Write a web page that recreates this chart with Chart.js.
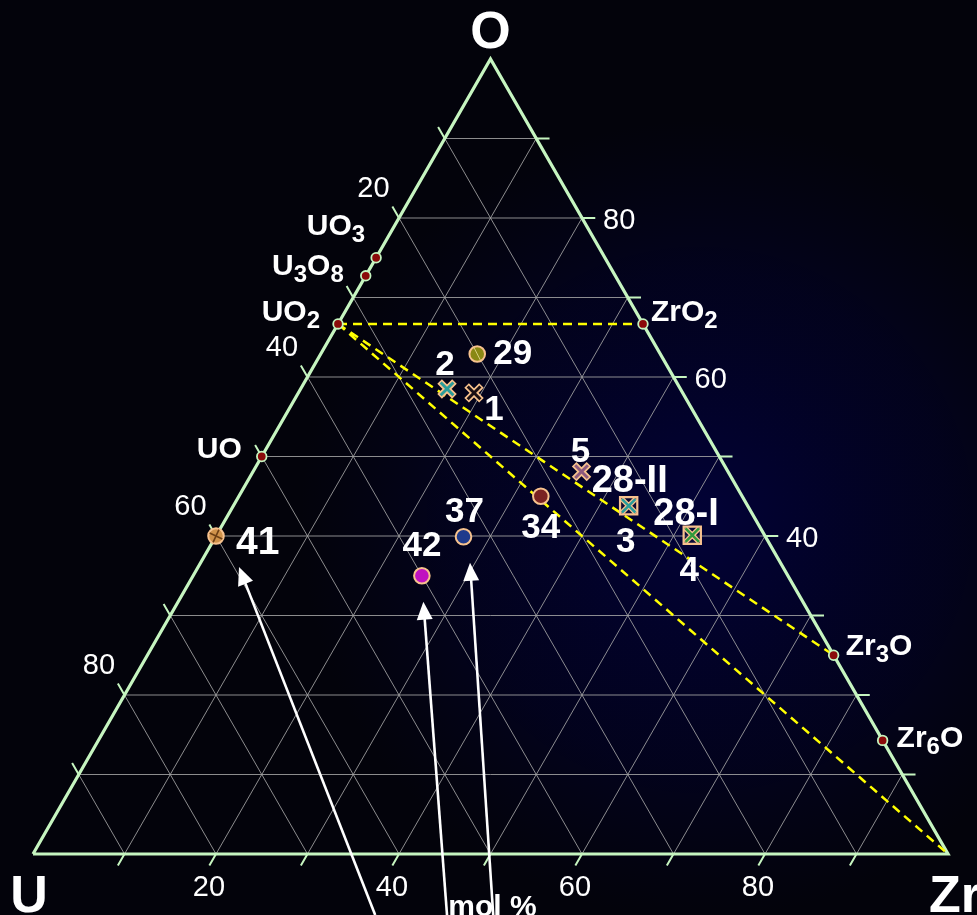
<!DOCTYPE html>
<html><head><meta charset="utf-8">
<script src="https://cdn.jsdelivr.net/npm/chart.js@4.4.0/dist/chart.umd.min.js"></script>
<style>html,body{margin:0;padding:0;background:#03030b;overflow:hidden}
#wrap{position:relative;width:977px;height:915px}
canvas{display:block}</style></head>
<body><div id="wrap"><canvas id="c" width="977" height="915"></canvas></div>
<script>
// ---------------- data (mol %) ----------------
const gridSteps = [10, 20, 30, 40, 50, 60, 70, 80, 90];
const bottomTickLabels = [20, 40, 60, 80];   // Zr
const leftTickLabels = [20, 40, 60, 80];     // U
const rightTickLabels = [40, 60, 80];        // O
const compoundNames = ['UO3', 'U3O8', 'UO2', 'UO', 'ZrO2', 'Zr3O', 'Zr6O'];
const compoundO  = [75, 72.73, 66.67, 50, 66.67, 25, 14.29];
const compoundZr = [0, 0, 0, 0, 33.33, 75, 85.71];
const tieFrom = ['UO2', 'UO2', 'UO2'];
const tieTo   = ['ZrO2', 'Zr3O', 'Zr'];
const sampleNames = ['29', '2', '1', '5', '28-II', '28-I', '34', '37', '42', '41'];
const sampleO  = [62.9, 58.5, 58.0, 48.1, 43.8, 40.1, 45.0, 39.9, 35.0, 40.0];
const sampleZr = [17.1, 16.0, 19.2, 35.9, 43.2, 52.0, 33.0, 27.1, 25.0, 0.0];
const arrowTargets = ['41', '42', '37'];

// ---------------- layout / style ----------------
const GREEN = '#c6f5c0', PEACH = '#f7c28e', YELLOW = '#ffff00', GRID = 'rgba(165,165,165,0.85)';
const FONT = '"Liberation Sans", Arial, sans-serif';
const SQ = Math.sqrt(3) / 2;
const X = (o, zr) => zr + o / 2;
const Y = (o) => o * SQ;
const TL = 1.45; // tick length, data units

const sampleStyle = {
  '29':   {shape: 'circle', fill: '#8a8814', hatch: 'line'},
  '2':    {shape: 'x', fill: '#2a9d9a'},
  '1':    {shape: 'x', fill: '#1a0f14'},
  '5':    {shape: 'x', fill: '#8e5a7e'},
  '28-II':{shape: 'boxx', fill: '#2a9d9a'},
  '28-I': {shape: 'boxx', fill: '#2f9a3c'},
  '34':   {shape: 'circle', fill: '#7a2222'},
  '37':   {shape: 'circle', fill: '#1e3a8c'},
  '42':   {shape: 'circle', fill: '#c012c0'},
  '41':   {shape: 'circle', fill: '#d0924a', hatch: 'cross'}
};
const sampleLabels = [ // text, anchor sample, pixel offset of ink centre / left edge
  {t: '29', s: '29', dx: 16, dy: -2, align: 'left', size: 35},
  {t: '2', s: '2', dx: -2, dy: -26, size: 35},
  {t: '1', s: '1', dx: 20, dy: 15, size: 35},
  {t: '5', s: '5', dx: -1, dy: -22, size: 35},
  {t: '28-II', s: '28-II', dx: -37, dy: -27, align: 'left', size: 38},
  {t: '28-I', s: '28-I', dx: -39, dy: -24, align: 'left', size: 38},
  {t: '3', s: '28-II', dx: -3, dy: 33.5, size: 35},
  {t: '4', s: '28-I', dx: -3, dy: 33, size: 35},
  {t: '34', s: '34', dx: 0, dy: 29, size: 35},
  {t: '37', s: '37', dx: 1, dy: -27, size: 35},
  {t: '42', s: '42', dx: 0, dy: -32, size: 35},
  {t: '41', s: '41', dx: 20, dy: 4, align: 'left', size: 39}
];
const compoundLabel = {
  'UO3':  {parts: [['U',0],['O',0],['3',1]], dx: -11, dy: -33, align: 'right'},
  'U3O8': {parts: [['U',0],['3',1],['O',0],['8',1]], dx: -22, dy: -12, align: 'right'},
  'UO2':  {parts: [['U',0],['O',0],['2',1]], dx: -18, dy: -13.5, align: 'right'},
  'UO':   {parts: [['U',0],['O',0]], dx: -20, dy: -9, align: 'right'},
  'ZrO2': {parts: [['Zr',0],['O',0],['2',1]], dx: 8, dy: -13.5, align: 'left'},
  'Zr3O': {parts: [['Zr',0],['3',1],['O',0]], dx: 12, dy: -11, align: 'left'},
  'Zr6O': {parts: [['Zr',0],['6',1],['O',0]], dx: 14, dy: -4, align: 'left'}
};
const arrowLayout = { // tail in cartesian data units, tip as pixel offset from sample
  '41': {tailX: 37.4, tailY: -6.65, tipDx: 23, tipDy: 31},
  '42': {tailX: 45.25, tailY: -6.65, tipDx: 1.5, tipDy: 26},
  '37': {tailX: 50.3, tailY: -6.65, tipDx: 6.5, tipDy: 26}
};

// ---------------- build datasets ----------------
const gap = {x: NaN, y: NaN};
const gridPts = [];
gridSteps.forEach(v => {
  gridPts.push({x: X(v, 0), y: Y(v)}, {x: X(v, 100 - v), y: Y(v)}, gap);           // const O
  gridPts.push({x: X(0, v), y: 0}, {x: X(100 - v, v), y: Y(100 - v)}, gap);         // const Zr
  gridPts.push({x: X(100 - v, 0), y: Y(100 - v)}, {x: X(0, 100 - v), y: 0}, gap);   // const U
});
const tickPts = [];
gridSteps.forEach(v => {
  tickPts.push({x: X(0, v), y: 0}, {x: X(0, v) - 0.5 * TL, y: -SQ * TL}, gap);        // bottom (Zr)
  const lx = X(100 - v, 0), ly = Y(100 - v);
  tickPts.push({x: lx, y: ly}, {x: lx - 0.5 * TL, y: ly + SQ * TL}, gap);              // left (U)
  const rx = X(v, 100 - v), ry = Y(v);
  tickPts.push({x: rx, y: ry}, {x: rx + TL, y: ry}, gap);                              // right (O)
});

const cIdx = n => compoundNames.indexOf(n);
const ptOf = n => n === 'Zr' ? {x: 100, y: 0} : {x: X(compoundO[cIdx(n)], compoundZr[cIdx(n)]), y: Y(compoundO[cIdx(n)])};
const tiePts = [];
tieFrom.forEach((f, i) => { tiePts.push(ptOf(f), ptOf(tieTo[i]), gap); });

const lineDS = (data, color, width, extra) => Object.assign({
  type: 'scatter', data, showLine: true, borderColor: color, borderWidth: width,
  pointRadius: 0, spanGaps: false, clip: false, tension: 0
}, extra || {});

const datasets = [];
datasets.push(lineDS(gridPts, GRID, 1));
datasets.push(lineDS(tickPts, GREEN, 2));
datasets.push(lineDS([{x: 0, y: 0}, {x: 100, y: 0}, {x: 50, y: Y(100)}, {x: 0, y: 0}], GREEN, 3.2, {borderJoinStyle: 'miter'}));
datasets.push(lineDS(tiePts, YELLOW, 2.5, {borderDash: [9, 6]}));
datasets.push({
  type: 'scatter', clip: false,
  data: compoundNames.map((n, i) => ({x: X(compoundO[i], compoundZr[i]), y: Y(compoundO[i])})),
  pointRadius: 4.8, pointBackgroundColor: '#8b0a0a', pointBorderColor: GREEN, pointBorderWidth: 1.8
});
const samplePt = i => ({x: X(sampleO[i], sampleZr[i]), y: Y(sampleO[i])});
const ptDS = (pt, style, r, bg, bc, bw, rot) => ({
  type: 'scatter', clip: false, data: [pt], pointStyle: style, pointRadius: r,
  pointBackgroundColor: bg, pointBorderColor: bc, pointBorderWidth: bw, pointRotation: rot || 0
});
sampleNames.forEach((n, i) => {
  const st = sampleStyle[n], p = samplePt(i);
  if (st.shape === 'circle') {
    datasets.push(ptDS(p, 'circle', 7.8, st.fill, PEACH, 2));
    if (st.hatch === 'line') datasets.push(ptDS(p, 'line', 7, 'transparent', 'rgba(225,215,140,0.9)', 1, 63));
    if (st.hatch === 'cross') datasets.push(ptDS(p, 'cross', 7, 'transparent', '#6e3f14', 1.6, 25));
  } else if (st.shape === 'x') {
    datasets.push(ptDS(p, 'crossRot', 10.5, 'transparent', PEACH, 6.5));
    datasets.push(ptDS(p, 'crossRot', 9, 'transparent', st.fill, 3));
  } else {
    datasets.push(ptDS(p, 'rect', 12.2, 'rgba(20,20,60,0.6)', PEACH, 2.2));
    datasets.push(ptDS(p, 'crossRot', 10, 'transparent', PEACH, 5));
    datasets.push(ptDS(p, 'crossRot', 9.5, 'transparent', st.fill, 2.5));
  }
});
datasets.forEach((d, i) => { d.order = datasets.length - i; });

// ---------------- plugins ----------------
const bgPlugin = {
  id: 'bg',
  beforeDraw(chart) {
    const ctx = chart.ctx;
    ctx.save();
    ctx.fillStyle = '#03030b';
    ctx.fillRect(0, 0, chart.width, chart.height);
    const g = ctx.createRadialGradient(700, 520, 20, 700, 520, 400);
    g.addColorStop(0, 'rgba(0,0,120,0.38)');
    g.addColorStop(0.6, 'rgba(0,0,100,0.2)');
    g.addColorStop(1, 'rgba(0,0,80,0)');
    ctx.fillStyle = g;
    ctx.fillRect(0, 0, chart.width, chart.height);
    ctx.restore();
  }
};

function chem(ctx, parts, x, yMid, align, size) {
  const subSize = Math.round(size * 0.8);
  const cap = size * 0.716;
  const base = yMid + cap / 2;
  let w = 0;
  parts.forEach(([t, s]) => { ctx.font = 'bold ' + (s ? subSize : size) + 'px ' + FONT; w += ctx.measureText(t).width; });
  let cx = align === 'right' ? x - w : x;
  ctx.textAlign = 'left'; ctx.textBaseline = 'alphabetic';
  parts.forEach(([t, s]) => {
    ctx.font = 'bold ' + (s ? subSize : size) + 'px ' + FONT;
    ctx.fillText(t, cx, s ? base + 7 : base);
    cx += ctx.measureText(t).width;
  });
}

const textPlugin = {
  id: 'texts',
  afterDatasetsDraw(chart) {
    const ctx = chart.ctx, sx = chart.scales.x, sy = chart.scales.y;
    const px = p => ({x: sx.getPixelForValue(p.x), y: sy.getPixelForValue(p.y)});
    ctx.save();
    // arrows
    ctx.strokeStyle = '#ffffff'; ctx.fillStyle = '#ffffff'; ctx.lineWidth = 2.6;
    arrowTargets.forEach(n => {
      const a = arrowLayout[n];
      const sp = px(samplePt(sampleNames.indexOf(n)));
      const tip = {x: sp.x + a.tipDx, y: sp.y + a.tipDy};
      const tail = px({x: a.tailX, y: a.tailY});
      const dx = tip.x - tail.x, dy = tip.y - tail.y, L = Math.hypot(dx, dy);
      const ux = dx / L, uy = dy / L, hl = 18, hw = 8;
      const bx = tip.x - ux * hl, by = tip.y - uy * hl;
      ctx.beginPath(); ctx.moveTo(tail.x, tail.y); ctx.lineTo(bx + ux * 2, by + uy * 2); ctx.stroke();
      ctx.beginPath(); ctx.moveTo(tip.x, tip.y);
      ctx.lineTo(bx - uy * hw, by + ux * hw); ctx.lineTo(bx + uy * hw, by - ux * hw); ctx.closePath(); ctx.fill();
    });
    // tick labels
    ctx.fillStyle = '#ffffff';
    ctx.font = '29px ' + FONT; ctx.textBaseline = 'middle';
    ctx.textAlign = 'center';
    bottomTickLabels.forEach(v => {
      const b = px({x: X(0, v), y: 0});
      ctx.fillText(String(v), b.x - 7, b.y + 34);
    });
    leftTickLabels.forEach(v => {
      const l = px({x: X(100 - v, 0), y: Y(100 - v)});
      ctx.fillText(String(v), l.x - 25.5, l.y - 29.5);
    });
    ctx.textAlign = 'left';
    rightTickLabels.forEach(v => {
      const r = px({x: X(v, 100 - v), y: Y(v)});
      ctx.fillText(String(v), r.x + 21, r.y + 3);
    });
    // compound labels
    compoundNames.forEach((n, i) => {
      const c = compoundLabel[n];
      const p = px({x: X(compoundO[i], compoundZr[i]), y: Y(compoundO[i])});
      chem(ctx, c.parts, p.x + c.dx, p.y + c.dy, c.align, 30);
    });
    // sample labels
    sampleLabels.forEach(l => {
      const p = px(samplePt(sampleNames.indexOf(l.s)));
      ctx.font = 'bold ' + l.size + 'px ' + FONT;
      ctx.textAlign = l.align || 'center'; ctx.textBaseline = 'alphabetic';
      ctx.fillText(l.t, p.x + l.dx, p.y + l.dy + l.size * 0.716 / 2);
    });
    // corner labels
    ctx.font = 'bold 52px ' + FONT; ctx.textBaseline = 'alphabetic';
    const top = px({x: 50, y: Y(100)});
    ctx.textAlign = 'center'; ctx.fillText('O', top.x, top.y - 11);
    const u = px({x: 0, y: 0});
    ctx.fillText('U', u.x - 4, u.y + 58);
    const z = px({x: 100, y: 0});
    ctx.textAlign = 'left'; ctx.fillText('Zr', z.x - 19, z.y + 58);
    ctx.font = 'bold 30px ' + FONT; ctx.textAlign = 'center';
    ctx.fillText('mol %', px({x: 50, y: 0}).x + 2, u.y + 62);
    ctx.restore();
  }
};

new Chart(document.getElementById('c'), {
  type: 'scatter',
  data: {datasets},
  options: {
    responsive: false, animation: false, events: [],
    layout: {padding: {left: 33, right: 29, top: 59, bottom: 61}},
    scales: {
      x: {type: 'linear', min: 0, max: 100, display: false},
      y: {type: 'linear', min: 0, max: Y(100), display: false}
    },
    plugins: {legend: {display: false}, tooltip: {enabled: false}, title: {display: false}}
  },
  plugins: [bgPlugin, textPlugin]
});
</script>
</body></html>
